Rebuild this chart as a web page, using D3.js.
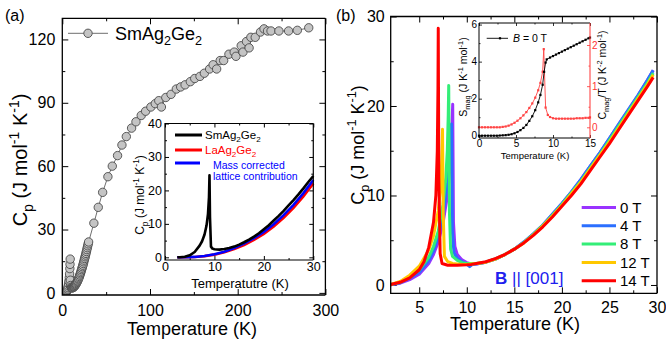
<!DOCTYPE html>
<html><head><meta charset="utf-8">
<script src="https://cdn.jsdelivr.net/npm/d3@7"></script>
<style>body{margin:0;background:#fff} svg{display:block}</style>
</head><body><svg id="c" width="666" height="344"></svg>
<script>
// ---------- DATA ----------
// Panel (a) main: SmAg2Ge2 Cp (J/mol K) vs T (K)
const aLowT = [2.0,2.4,2.8,3.2,3.6,4.0,4.4,4.8,5.2,5.6,6.0,6.4,6.8,7.2,7.6,8.0,8.3,8.6,8.8,9.0,9.2,9.5,10,10.5,11,11.5,12,12.5,13,13.5,14,14.5,15,15.5,16,16.5,17,17.5,18,18.5,19,19.5,20,20.5,21,21.5,22,22.5,23,23.5,24,24.5,25,25.5,26,26.5,27,27.5,28,28.5,29,29.5,30];
const aLowC = [0.0,0.02,0.04,0.08,0.12,0.2,0.35,0.6,0.9,1.3,1.8,2.5,3.3,4.3,5.6,7.2,9.0,11.5,13.5,16.0,6.0,3.5,2.7,2.5,2.4,2.4,2.5,2.6,2.8,3.0,3.2,3.5,3.8,4.1,4.5,4.9,5.3,5.7,6.2,6.7,7.2,7.8,8.4,9.0,9.6,10.3,11.0,11.7,12.4,13.1,13.9,14.7,15.5,16.3,17.1,17.9,18.7,19.6,20.5,21.4,22.3,23.2,24.1];
const aHighT = [36,41,46,52,57,63,68,73,79,84,90,95,101,106,110,113,118,124,130,135,140,146,151,157,162,168,172,176,180,184,190,196,198,204,206,210,213,215,220,226,230,234,238,247,258,268,281];
const aHighC = [33,40.5,47.6,55,60,65,70,74,78,81,84,86,88,89.6,91,88,92.5,94,96.5,97.5,98.5,100,101.5,102.5,104,106,108,106,110,110,113,114,112,117,114,119,116,121,121,123.5,125,124,124,124,124,124.3,125.5];

// Panel (a) inset
const inT   = [2.5,3,4,5,6,7,7.5,8,8.4,8.7,8.9,9.0,9.1,9.3,9.6,10,11,12,13,14,15,16,17,18,19,20,21,22,23,24,25,26,27,28,29,30];
const inSm  = [0,0.02,0.15,0.6,1.6,3.5,4.8,6.8,9.5,13,18,24.5,12,3.2,2.6,2.4,2.3,2.5,2.8,3.2,3.8,4.5,5.3,6.2,7.2,8.4,9.6,11,12.4,13.9,15.5,17.1,18.8,20.6,22.5,24.3];
const latT  = [2.5,4,6,8,10,12,14,16,18,20,22,24,26,28,30];
const inLa  = [0,0.02,0.1,0.35,0.8,1.5,2.5,3.7,5.2,7.0,9.2,11.8,14.8,18.2,22.1];
const inMass= [0,0.03,0.12,0.4,0.9,1.7,2.8,4.1,5.7,7.6,9.9,12.6,15.7,19.2,23.1];

// Panel (b): Cp vs T for fields B || [001]
const fields = ["0 T","4 T","8 T","12 T","14 T"];
const bT0 = [2,3,4,5,6,6.5,7,7.5,8,8.3,8.45,8.52,8.6,8.75,9,9.5,10,10.5,11,12,13,14,15,16,17,18,19,20,21,22,23,24,25,26,27,28,29,29.6];
const bC0 = [0.02,0.2,0.6,1.2,2.4,3.4,4.8,6.9,10.2,14,18,20.2,7,4.3,3.4,2.8,2.5,2.35,2.35,2.55,2.9,3.4,4.0,4.8,5.7,6.7,7.9,9.1,10.4,11.8,13.3,14.8,16.4,18.0,19.6,21.2,22.9,24.0];
const bT4 = [2,3,4,5,6,6.5,7,7.5,8,8.25,8.35,8.4,8.48,8.65,9,9.5,10,10.3,10.6,11,12,13,14,15,16,17,18,19,20,21,22,23,24,25,26,27,28,29,29.6];
const bC4 = [0.03,0.25,0.75,1.4,2.7,3.8,5.4,7.8,11.5,15,17.5,18,6,3.6,3.0,2.6,2.3,2.05,2.3,2.35,2.55,2.9,3.4,4.0,4.8,5.7,6.7,7.9,9.1,10.4,11.8,13.3,14.8,16.4,18.0,19.6,21.2,22.9,24.0];
const bT8 = [2,3,4,5,6,6.5,7,7.5,7.8,7.95,8.05,8.1,8.18,8.3,8.5,9,9.5,10,10.5,11,12,13,14,15,16,17,18,19,20,21,22,23,24,25,26,27,28,29,29.6];
const bC8 = [0.05,0.3,0.9,1.7,3.1,4.3,6.0,9.0,12,15,19,22.3,8,4.0,3.2,2.75,2.5,2.4,2.4,2.4,2.55,2.9,3.4,4.0,4.75,5.65,6.65,7.8,9.0,10.3,11.6,13.1,14.6,16.2,17.8,19.4,21.0,22.6,23.7];
const bT12 = [2,3,4,5,6,6.5,7,7.2,7.35,7.42,7.45,7.52,7.65,8,8.5,9,9.5,10,10.5,11,12,13,14,15,16,17,18,19,20,21,22,23,24,25,26,27,28,29,29.6];
const bC12 = [0.05,0.4,1.1,2.1,3.9,5.5,8.3,10.5,13.5,16,17.4,8,3.2,2.6,2.4,2.35,2.3,2.3,2.35,2.4,2.55,2.9,3.4,4.0,4.7,5.6,6.6,7.7,8.9,10.2,11.5,13.0,14.5,16.0,17.6,19.2,20.8,22.4,23.5];
const bT14 = [2,3,4,5,5.5,6,6.5,6.75,6.9,6.97,7.0,7.06,7.2,7.4,8,9,10,10.5,11,12,13,14,15,16,17,18,19,20,21,22,23,24,25,26,27,28,29,29.6];
const bC14 = [0.05,0.3,0.8,1.7,2.6,4.2,7.0,10,15,22,28.7,12,3.5,2.4,2.2,2.2,2.25,2.3,2.4,2.6,2.95,3.4,4.0,4.7,5.55,6.5,7.6,8.8,10.0,11.3,12.8,14.3,15.8,17.4,19.0,20.6,22.2,23.2];
const fieldColors = ["#9933ff","#2b6fff","#33ee77","#ffc800","#ff0000"];

// Panel (b) inset: magnetic entropy and Cmag/T at B = 0 T
const sT   = [0,0.4,0.8,1.2,1.6,2.0,2.4,2.8,3.2,3.6,4.0,4.4,4.8,5.2,5.6,6.0,6.4,6.8,7.2,7.6,8.0,8.3,8.6,8.8,9.0,9.15,9.6,10.0,10.4,10.8,11.2,11.6,12.0,12.4,12.8,13.2,13.6,14.0,14.4,14.8,15.0];
const sMag = [0,0,0,0,0,0,0,0.01,0.02,0.03,0.05,0.08,0.13,0.2,0.3,0.42,0.58,0.8,1.05,1.38,1.8,2.2,2.75,3.45,3.95,4.12,4.22,4.3,4.38,4.46,4.54,4.62,4.7,4.78,4.86,4.94,5.02,5.1,5.18,5.26,5.3];
const cT   = [0,0.4,0.8,1.2,1.6,2.0,2.4,2.8,3.2,3.6,4.0,4.4,4.8,5.2,5.6,6.0,6.4,6.8,7.2,7.6,8.0,8.3,8.6,8.75,9.0,9.3,9.6,10.0,10.4,10.8,11.2,11.6,12.0,12.4,12.8,13.2,13.6,14.0,14.4,14.8,15.0];
const cMag = [0.0,0.0,0.0,0.0,0.0,0.0,0.0,0.0,0.01,0.02,0.04,0.07,0.11,0.16,0.22,0.29,0.37,0.47,0.58,0.72,0.9,1.08,1.35,1.9,0.48,0.3,0.25,0.22,0.21,0.21,0.21,0.21,0.21,0.21,0.21,0.22,0.22,0.22,0.23,0.23,0.24];

// tick values
const aXMajor=[0,100,200,300], aXMinor=[50,150,250], aYMajor=[0,30,60,90,120], aYMinor=[15,45,75,105];
const iXMajor=[0,10,20,30], iXMinor=[5,15,25], iYMajor=[0,10,20,30,40], iYMinor=[5,15,25,35];
const bXMajor=[5,10,15,20,25,30], bXMinor=[7.5,12.5,17.5,22.5,27.5], bYMajor=[0,10,20,30], bYMinor=[5,15,25];
const jXMajor=[0,5,10,15], jXMinor=[2.5,7.5,12.5], jYMajor=[0,2,4,6], jYMinor=[1,3,5], jRMajor=[0,1,2], jRMinor=[0.5,1.5];

// ---------- DRAWING ----------
const FONT = '"Liberation Sans", Arial, Helvetica, sans-serif';
const svg = d3.select('#c');

function rich(t, parts, size){
  let shift = 0;
  parts.forEach(p => {
    const k = p[1] || '';
    const target = k==='sub' ? size*0.32 : k==='sup' ? -size*0.4 : 0;
    t.append('tspan').attr('dy', target - shift).attr('font-size', k ? size*0.7 : size).text(p[0]);
    shift = target;
  });
  return t;
}
function label(g, x, y, size, parts, opts={}){
  const t = g.append('text').attr('x',0).attr('y',0).attr('font-family',FONT).attr('font-size',size)
    .attr('fill', opts.fill||'#000').attr('text-anchor', opts.anchor||'middle')
    .attr('transform', `translate(${x},${y})` + (opts.rot ? ` rotate(${opts.rot})` : ''));
  return rich(t, parts, size);
}

function mkAxis(g, axis, tx, ty, vals, len, fmt, pad, o){
  const a = g.append('g').attr('transform',`translate(${tx},${ty})`)
    .call(axis.tickValues(vals).tickSizeInner(-len).tickSizeOuter(0).tickPadding(pad).tickFormat(fmt));
  a.select('.domain').remove();
  a.selectAll('line').attr('stroke', o.color||'#000').attr('stroke-width', o.tw||1);
  a.selectAll('text').attr('font-family',FONT).attr('font-size',o.fs).attr('fill', o.tcolor||'#000');
  return a;
}
const none = () => '';
function axes(g, x, y, o){
  const [xa,xb]=x.range(), [yb,ya]=y.range();
  if (o.bg) g.append('rect').attr('x',xa).attr('y',ya).attr('width',xb-xa).attr('height',yb-ya).attr('fill','#fff');
  const f = d3.format('d');
  mkAxis(g, d3.axisBottom(x), 0, yb, o.xMajor, o.len, f, o.xpad, o);
  mkAxis(g, d3.axisBottom(x), 0, yb, o.xMinor, o.mlen, none, 0, o);
  mkAxis(g, d3.axisTop(x), 0, ya, o.xMajor, o.len, none, 0, o);
  mkAxis(g, d3.axisTop(x), 0, ya, o.xMinor, o.mlen, none, 0, o);
  mkAxis(g, d3.axisLeft(y), xa, 0, o.yMajor, o.len, f, o.ypad, o);
  mkAxis(g, d3.axisLeft(y), xa, 0, o.yMinor, o.mlen, none, 0, o);
  if (!o.noRight){
    mkAxis(g, d3.axisRight(y), xb, 0, o.yMajor, o.len, none, 0, o);
    mkAxis(g, d3.axisRight(y), xb, 0, o.yMinor, o.mlen, none, 0, o);
  }
}
function border(g, x, y, sw, rightColor){
  const [xa,xb]=x.range(), [yb,ya]=y.range();
  g.append('path').attr('d',`M${xb},${ya}H${xa}V${yb}H${xb}`).attr('fill','none').attr('stroke','#000').attr('stroke-width',sw);
  g.append('path').attr('d',`M${xb},${ya}V${yb}`).attr('fill','none').attr('stroke',rightColor||'#000').attr('stroke-width',sw);
}
const zip = (xs, ys) => xs.map((d,i)=>[d, ys[i]]);

// ===== Panel (a) =====
const ax = d3.scaleLinear().domain([0,300]).range([62.3,325.4]);
const ay = d3.scaleLinear().domain([-1,130]).range([295,18.3]);
const ga = svg.append('g');
const defs = svg.append('defs');
defs.append('clipPath').attr('id','clipA').append('rect').attr('x',62.3).attr('y',18.3).attr('width',263.1).attr('height',276.7);
axes(ga, ax, ay, {xMajor:aXMajor,xMinor:aXMinor,yMajor:aYMajor,yMinor:aYMinor,len:6,mlen:3,fs:16,xpad:10,ypad:7,tw:1});
const aAll = zip(aLowT.concat(aHighT), aLowC.concat(aHighC));
const gaData = ga.append('g').attr('clip-path','url(#clipA)');
gaData.append('path').datum(aAll).attr('d', d3.line().x(d=>ax(d[0])).y(d=>ay(d[1])))
  .attr('fill','none').attr('stroke','#6e6e6e').attr('stroke-width',1);
gaData.selectAll('circle').data(aAll).join('circle')
  .attr('cx',d=>ax(d[0])).attr('cy',d=>ay(d[1])).attr('r',4.2)
  .attr('fill','#c4c4c4').attr('stroke','#4a4a4a').attr('stroke-width',0.9);
border(ga, ax, ay, 1.3);
// legend (a)
ga.append('line').attr('x1',68).attr('x2',108).attr('y1',33.3).attr('y2',33.3).attr('stroke','#6e6e6e').attr('stroke-width',1);
ga.append('circle').attr('cx',88).attr('cy',33.3).attr('r',4.2).attr('fill','#c4c4c4').attr('stroke','#4a4a4a').attr('stroke-width',0.9);
label(ga, 115, 39.5, 18, [['SmAg'],['2','sub'],['Ge'],['2','sub']], {anchor:'start'});
label(ga, 192, 335, 18, [['Temperature (K)']]);
label(ga, 26.5, 160, 20, [['C'],['p','sub'],[' (J mol'],['-1','sup'],[' K'],['-1','sup'],[')']], {rot:-90});
label(svg, 5, 21, 16, [['(a)']], {anchor:'start'});

// ----- inset (a) -----
const ix = d3.scaleLinear().domain([0,30]).range([165,313.3]);
const iy = d3.scaleLinear().domain([-0.8,40]).range([260,123.5]);
const gi = svg.append('g');
axes(gi, ix, iy, {bg:true,xMajor:iXMajor,xMinor:iXMinor,yMajor:iYMajor,yMinor:iYMinor,len:4,mlen:2,fs:12.5,xpad:2.5,ypad:3,tw:1});
const iline = d3.line().x(d=>ix(d[0])).y(d=>iy(d[1]));
gi.append('path').datum(zip(latT,inLa)).attr('d',iline).attr('fill','none').attr('stroke','#ff0000').attr('stroke-width',2.6);
gi.append('path').datum(zip(latT,inMass)).attr('d',iline).attr('fill','none').attr('stroke','#0000ff').attr('stroke-width',2.6);
gi.append('path').datum(zip(inT,inSm)).attr('d',iline).attr('fill','none').attr('stroke','#000').attr('stroke-width',2.6).attr('stroke-linejoin','round');
border(gi, ix, iy, 1.2);
gi.append('line').attr('x1',175).attr('x2',202).attr('y1',135).attr('y2',135).attr('stroke','#000').attr('stroke-width',3);
gi.append('line').attr('x1',175).attr('x2',202).attr('y1',150).attr('y2',150).attr('stroke','#ff0000').attr('stroke-width',3);
gi.append('line').attr('x1',175).attr('x2',200).attr('y1',163).attr('y2',163).attr('stroke','#0000ff').attr('stroke-width',3);
label(gi, 205, 138.5, 11.5, [['SmAg'],['2','sub'],['Ge'],['2','sub']], {anchor:'start'});
label(gi, 205, 153.5, 11.5, [['LaAg'],['2','sub'],['Ge'],['2','sub']], {anchor:'start', fill:'#ff0000'});
label(gi, 213, 168.5, 10.5, [['Mass corrected']], {anchor:'start', fill:'#0000ff'});
label(gi, 213, 179.5, 10.5, [['lattice contribution']], {anchor:'start', fill:'#0000ff'});
label(gi, 240, 287.5, 13, [['Temperatutre (K)']]);
label(gi, 144, 195, 12, [['C'],['p','sub'],[' (J mol'],['-1','sup'],[' K'],['-1','sup'],[')']], {rot:-90});

// ===== Panel (b) =====
const bx = d3.scaleLinear().domain([2,30]).range([390.7,657]);
const by = d3.scaleLinear().domain([-0.93,30]).range([293.3,16.5]);
const gb = svg.append('g');
defs.append('clipPath').attr('id','clipB').append('rect').attr('x',390.7).attr('y',16.5).attr('width',266.3).attr('height',276.8);
axes(gb, bx, by, {xMajor:bXMajor,xMinor:bXMinor,yMajor:bYMajor,yMinor:bYMinor,len:6,mlen:3,fs:16,xpad:8,ypad:6,tw:1});
const bSeries = [zip(bT0,bC0), zip(bT4,bC4), zip(bT8,bC8), zip(bT12,bC12), zip(bT14,bC14)];
const bline = d3.line().x(d=>bx(d[0])).y(d=>by(d[1]));
const gbData = gb.append('g').attr('clip-path','url(#clipB)');
bSeries.forEach((s,i)=>{
  gbData.append('path').datum(s).attr('d',bline).attr('fill','none').attr('stroke',fieldColors[i]).attr('stroke-width',3).attr('stroke-linejoin','round');
});
border(gb, bx, by, 1.3);
fields.forEach((f,i)=>{
  const yy = 207.4 + i*18.33;
  gb.append('line').attr('x1',581.7).attr('x2',616).attr('y1',yy).attr('y2',yy).attr('stroke',fieldColors[i]).attr('stroke-width',3);
  label(gb, 620, yy+5.3, 15, [[f]], {anchor:'start'});
});
const bt = gb.append('text').attr('x',495).attr('y',284).attr('font-family',FONT).attr('font-size',17).attr('fill','#2020ee');
bt.append('tspan').attr('font-weight','bold').text('B');
bt.append('tspan').text(' || [001]');
label(gb, 515, 330, 18, [['Temperature (K)']]);
label(gb, 363.5, 145, 18, [['C'],['p','sub'],[' (J mol'],['-1','sup'],[' K'],['-1','sup'],[')']], {rot:-90});
label(svg, 336, 21, 16, [['(b)']], {anchor:'start'});

// ----- inset (b) -----
const jx = d3.scaleLinear().domain([0,15]).range([479,590]);
const jy = d3.scaleLinear().domain([-0.124,6.086]).range([138,23]);
const jr = d3.scaleLinear().domain([-0.26,2.535]).range([138,23]);
const gj = svg.append('g');
axes(gj, jx, jy, {bg:true,noRight:true,xMajor:jXMajor,xMinor:jXMinor,yMajor:jYMajor,yMinor:jYMinor,len:3,mlen:1.5,fs:10,xpad:2,ypad:2,tw:0.8});
mkAxis(gj, d3.axisRight(jr), 590, 0, jRMajor, 3, d3.format('d'), 2, {fs:10,color:'#ff3333',tcolor:'#ff3333',tw:0.8});
mkAxis(gj, d3.axisRight(jr), 590, 0, jRMinor, 1.5, none, 0, {fs:10,color:'#ff3333',tw:0.8});
const cl = zip(cT,cMag), sl = zip(sT,sMag);
gj.append('path').datum(cl).attr('d', d3.line().x(d=>jx(d[0])).y(d=>jr(d[1]))).attr('fill','none').attr('stroke','#ff4444').attr('stroke-width',0.9);
gj.selectAll('rect.cm').data(cl).join('rect').attr('class','cm')
  .attr('x',d=>jx(d[0])-1.1).attr('y',d=>jr(d[1])-1.1).attr('width',2.2).attr('height',2.2).attr('fill','#ff4444');
gj.append('path').datum(sl).attr('d', d3.line().x(d=>jx(d[0])).y(d=>jy(d[1]))).attr('fill','none').attr('stroke','#000').attr('stroke-width',0.9);
gj.selectAll('rect.sm').data(sl).join('rect').attr('class','sm')
  .attr('x',d=>jx(d[0])-1.1).attr('y',d=>jy(d[1])-1.1).attr('width',2.2).attr('height',2.2).attr('fill','#000');
border(gj, jx, jy, 1, '#ff3333');
gj.append('line').attr('x1',486.7).attr('x2',508).attr('y1',38.3).attr('y2',38.3).attr('stroke','#000').attr('stroke-width',0.9);
gj.append('rect').attr('x',498.9).attr('y',37.2).attr('width',2.2).attr('height',2.2).attr('fill','#000');
const lt = gj.append('text').attr('x',513).attr('y',42).attr('font-family',FONT).attr('font-size',10.5).attr('fill','#000');
lt.append('tspan').attr('font-style','italic').text('B');
lt.append('tspan').text(' = 0 T');
label(gj, 535, 158.5, 9.5, [['Temperature (K)']]);
label(gj, 467, 77, 10.5, [['S'],['mag','sub'],[' (J K'],['-1','sup'],[' mol'],['-1','sup'],[')']], {rot:-90});
label(gj, 606, 75, 10.5, [['C'],['mag','sub'],['/T (J K'],['-2','sup'],[' mol'],['-1','sup'],[')']], {rot:-90});
</script></body></html>
